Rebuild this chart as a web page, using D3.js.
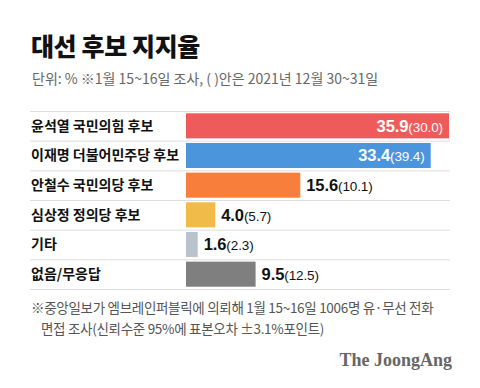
<!DOCTYPE html>
<html>
<head>
<meta charset="utf-8">
<script src="https://cdn.jsdelivr.net/npm/d3@7"></script>
<style>
  body { margin: 0; background: #fff; }
  svg { display: block; font-family: "Noto Sans CJK KR", "Noto Sans", sans-serif; }
</style>
</head>
<body>
<div id="chart"></div>
<script>
// Data
const candidates = ["윤석열 국민의힘 후보", "이재명 더불어민주당 후보", "안철수 국민의당 후보", "심상정 정의당 후보", "기타", "없음/무응답"];
const current = [35.9, 33.4, 15.6, 4.0, 1.6, 9.5];
const previous = [30.0, 39.4, 10.1, 5.7, 2.3, 12.5];
const colors = ["#ef5b5b", "#4a95dc", "#f77f3b", "#f1bb49", "#b9c3cc", "#7f7f7f"];

const W = 480, H = 388;

const svg = d3.select("#chart")
    .append("svg")
    .attr("width", W)
    .attr("height", H);

// Title + subtitle
svg.append("text")
    .attr("x", 31)
    .attr("y", 56)
    .attr("font-size", 25)
    .attr("font-weight", 900)
    .attr("letter-spacing", -0.4)
    .attr("fill", "#111")
    .text("대선 후보 지지율");

svg.append("text")
    .attr("x", 32)
    .attr("y", 84)
    .attr("font-size", 14)
    .attr("letter-spacing", 0)
    .attr("fill", "#666")
    .text("단위: % ※1월 15~16일 조사, ( )안은 2021년 12월 30~31일");

const data = candidates.map((c, i) => ({
    name: c, value: current[i], prev: previous[i], color: colors[i]
}));

// Scales
const y = d3.scaleBand()
    .domain(candidates)
    .range([111, 289]);

const x = d3.scaleLinear()
    .domain([0, d3.max(current)])
    .range([186, 449]);

// Row separators
svg.selectAll(".sep")
    .data([candidates[0]].concat(candidates))
    .enter()
    .append("line")
    .attr("x1", 30)
    .attr("x2", 450)
    .attr("y1", (d, i) => i === 0 ? y(d) + 0.5 : y(d) + y.bandwidth() + 0.5)
    .attr("y2", (d, i) => i === 0 ? y(d) + 0.5 : y(d) + y.bandwidth() + 0.5)
    .attr("stroke", "#dedede")
    .attr("stroke-width", 1);

// Category labels
svg.selectAll(".label")
    .data(data)
    .enter()
    .append("text")
    .attr("x", 31)
    .attr("y", d => y(d.name) + y.bandwidth() / 2)
    .attr("dy", "0.35em")
    .attr("font-size", 14)
    .attr("font-weight", 700)
    .attr("letter-spacing", 0)
    .attr("fill", "#111")
    .text(d => d.name);

// Bars
svg.selectAll(".bar")
    .data(data)
    .enter()
    .append("rect")
    .attr("x", x(0))
    .attr("y", d => y(d.name) + 2.3)
    .attr("width", d => x(d.value) - x(0))
    .attr("height", y.bandwidth() - 4.6)
    .attr("fill", d => d.color);

// Value labels: inside for long bars, outside otherwise
const inside = d => d.value > 30;
const vals = svg.selectAll(".val")
    .data(data)
    .enter()
    .append("text")
    .attr("x", d => inside(d) ? x(d.value) - 6 : x(d.value) + 6)
    .attr("y", d => y(d.name) + y.bandwidth() / 2)
    .attr("dy", "0.36em")
    .attr("text-anchor", d => inside(d) ? "end" : "start")
    .attr("fill", d => inside(d) ? "#fff" : "#111")
    .attr("font-family", "'Liberation Sans', Arial, sans-serif")
    .attr("letter-spacing", -0.1);

vals.append("tspan")
    .attr("font-size", 16.5)
    .attr("font-weight", 700)
    .text(d => d.value.toFixed(1));

vals.append("tspan")
    .attr("font-size", 13.5)
    .text(d => "(" + d.prev.toFixed(1) + ")");

// Footnote
svg.append("text")
    .attr("x", 31)
    .attr("y", 313)
    .attr("font-size", 13.5)
    .attr("letter-spacing", -0.3)
    .attr("fill", "#555")
    .text("※중앙일보가 엠브레인퍼블릭에 의뢰해 1월 15~16일 1006명 유·무선 전화");

svg.append("text")
    .attr("x", 41)
    .attr("y", 334)
    .attr("font-size", 13.5)
    .attr("letter-spacing", -0.3)
    .attr("fill", "#555")
    .text("면접 조사(신뢰수준 95%에 표본오차 ±3.1%포인트)");

// Logo
svg.append("text")
    .attr("x", 452)
    .attr("y", 366)
    .attr("text-anchor", "end")
    .attr("font-family", "'Liberation Serif', 'DejaVu Serif', serif")
    .attr("font-size", 18)
    .attr("font-weight", 700)
    .attr("fill", "#666")
    .text("The JoongAng");
</script>
</body>
</html>
